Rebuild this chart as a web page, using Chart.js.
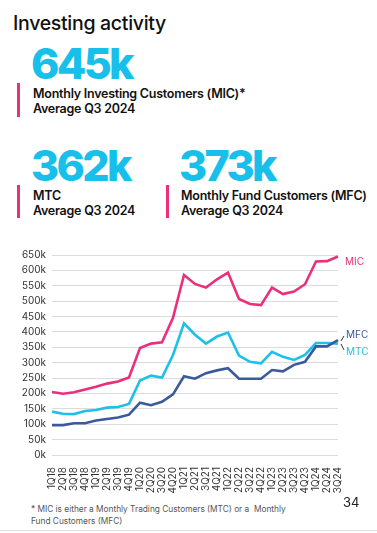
<!DOCTYPE html>
<html>
<head>
<meta charset="utf-8">
<script src="https://cdn.jsdelivr.net/npm/chart.js@4.4.1/dist/chart.umd.min.js"></script>
<style>
  html, body { margin: 0; padding: 0; background: #fff; }
  body { width: 377px; height: 533px; position: relative; overflow: hidden; font-family: Inter, "Open Sans", sans-serif; color: #111; }
  .abs { position: absolute; white-space: nowrap; }
  .title { left: 13px; top: 11px; font-size: 19.5px; font-weight: 500; letter-spacing: -0.3px; }
  .big { font-size: 43px; font-weight: 800; color: #17bfea; letter-spacing: -2.7px; line-height: 1; }
  .bar { width: 3px; background: #ec2f7c; }
  .sub { font-size: 12.5px; font-weight: 600; line-height: 15px; letter-spacing: -0.25px; }
  .foot { left: 31px; top: 503px; font-size: 8.3px; color: #555; line-height: 12px; }
  .page { left: 343px; top: 494px; font-size: 13px; color: #222; }
  .rule { left: 0; top: 530px; width: 377px; height: 1px; background: #ddd; }
  #wrap { position: absolute; left: 0; top: 243px; width: 377px; height: 260px; }
</style>
</head>
<body>
<div class="abs title">Investing activity</div>

<div class="abs big" style="left:31px; top:42px;">645k</div>
<div class="abs bar" style="left:17px; top:83px; height:34px;"></div>
<div class="abs sub" style="left:33px; top:86px;">Monthly Investing Customers (MIC)*<br>Average Q3 2024</div>

<div class="abs big" style="left:31px; top:144px;">362k</div>
<div class="abs bar" style="left:17px; top:185px; height:33px;"></div>
<div class="abs sub" style="left:33px; top:188px;">MTC<br>Average Q3 2024</div>

<div class="abs big" style="left:179px; top:144px;">373k</div>
<div class="abs bar" style="left:166px; top:185px; height:33px;"></div>
<div class="abs sub" style="left:181px; top:188px;">Monthly Fund Customers (MFC)<br>Average Q3 2024</div>

<div id="wrap"><canvas id="chart"></canvas></div>

<div class="abs foot">* MIC is either a Monthly Trading Customers (MTC) or a&nbsp; Monthly<br>Fund Customers (MFC)</div>
<div class="abs page">34</div>
<div class="abs rule"></div>

<script>
// quarters 1Q18 .. 3Q24
const quarters = [
  "1Q18", "2Q18", "3Q18", "4Q18",
  "1Q19", "2Q19", "3Q19", "4Q19",
  "1Q20", "2Q20", "3Q20", "4Q20",
  "1Q21", "2Q21", "3Q21", "4Q21",
  "1Q22", "2Q22", "3Q22", "4Q22",
  "1Q23", "2Q23", "3Q23", "4Q23",
  "1Q24", "2Q24", "3Q24",
];

// thousands of customers
const micValues = [205, 199, 204, 213, 222, 232, 239, 252, 348, 362, 366, 446, 585, 556, 544, 571, 593, 507, 491, 487, 544, 523, 531, 555, 629, 630, 645];
const mtcValues = [141, 134, 133, 143, 146, 154, 156, 166, 242, 258, 252, 325, 428, 391, 362, 385, 398, 323, 303, 298, 335, 319, 309, 325, 364, 364, 362];
const mfcValues = [97, 97, 103, 103, 112, 117, 122, 131, 170, 162, 173, 197, 256, 248, 266, 275, 282, 248, 248, 248, 276, 272, 293, 303, 353, 353, 373];

const yTicks = [0, 50, 100, 150, 200, 250, 300, 350, 400, 450, 500, 550, 600, 650];

const PINK = "#ec2f7c";
const CYAN = "#1dc0e8";
const NAVY = "#3b5a9a";

// end-of-line labels (MIC / MFC / MTC)
const endLabels = {
  id: "endLabels",
  afterDatasetsDraw(chart) {
    const { ctx, chartArea } = chart;
    const y = chart.scales.y;
    const x0 = chartArea.right;
    const last = quarters.length - 1;
    const yMic = y.getPixelForValue(micValues[last]);
    const yMfc = y.getPixelForValue(mfcValues[last]);
    const yMtc = y.getPixelForValue(mtcValues[last]);
    const mid = (yMfc + yMtc) / 2;

    ctx.save();
    ctx.font = "10px Inter, sans-serif";
    ctx.textBaseline = "middle";
    ctx.fillStyle = PINK;
    ctx.fillText("MIC", x0 + 7, yMic + 5);
    ctx.fillStyle = NAVY;
    ctx.fillText("MFC", x0 + 8, mid - 7);
    ctx.fillStyle = CYAN;
    ctx.fillText("MTC", x0 + 8, mid + 10);

    // little bracket marks
    ctx.lineWidth = 1;
    ctx.strokeStyle = "#333";
    ctx.beginPath();
    ctx.moveTo(x0 + 3, mid - 1);
    ctx.lineTo(x0 + 6, mid - 6);
    ctx.moveTo(x0 + 3, mid + 2);
    ctx.lineTo(x0 + 6, mid + 8);
    ctx.stroke();
    ctx.restore();
  },
};

const makeSet = (label, data, color) => ({
  label,
  data,
  borderColor: color,
  backgroundColor: color,
  borderWidth: 2.6,
  pointRadius: 0,
  tension: 0,
});

new Chart(document.getElementById("chart"), {
  type: "line",
  data: {
    labels: quarters,
    datasets: [
      makeSet("MFC", mfcValues, NAVY),
      makeSet("MTC", mtcValues, CYAN),
      makeSet("MIC", micValues, PINK),
    ],
  },
  options: {
    responsive: true,
    maintainAspectRatio: false,
    animation: false,
    layout: { padding: { top: 8, right: 39, left: 0, bottom: 0 } },
    plugins: {
      legend: { display: false },
      tooltip: { enabled: false },
    },
    scales: {
      x: {
        offset: false,
        grid: { display: false },
        border: { display: false },
        ticks: {
          autoSkip: false,
          maxRotation: 90,
          minRotation: 90,
          padding: 4,
          color: "#333",
          font: { family: "Inter", size: 10 },
        },
        afterFit(scale) { scale.height = 48; },
      },
      y: {
        min: 0,
        max: 650,
        afterBuildTicks(scale) { scale.ticks = yTicks.map((v) => ({ value: v })); },
        grid: { color: "#dcdcdc", lineWidth: 1, drawTicks: false },
        border: { display: false },
        ticks: {
          padding: 6,
          color: "#333",
          font: { family: "Inter", size: 10 },
          callback: (v) => v + "k",
        },
        afterFit(scale) { scale.width = 52; },
      },
    },
  },
  plugins: [endLabels],
});
</script>
</body>
</html>
